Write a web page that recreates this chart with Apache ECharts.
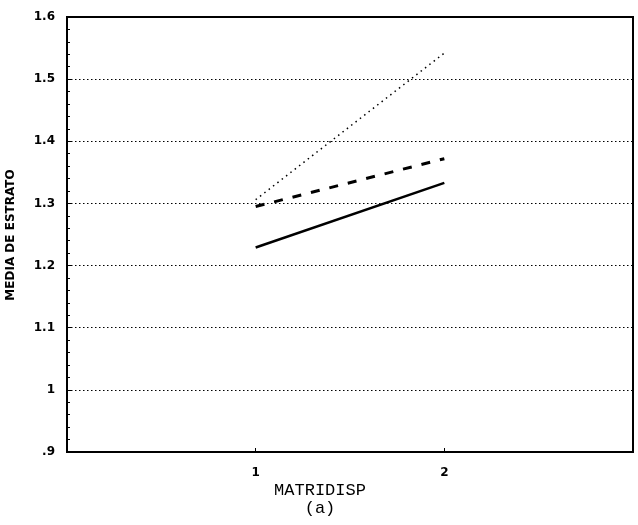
<!DOCTYPE html>
<html>
<head>
<meta charset="utf-8">
<script src="https://cdn.jsdelivr.net/npm/echarts@6/dist/echarts.min.js"></script>
<style>html,body{margin:0;padding:0;background:#fff;}#c{width:638px;height:525px;}</style>
</head>
<body>
<div id="c"></div>
<script>
const xCats = [1, 2];
const xTickLabels = ['1', '2'];
const yTickLabels = {0.9: '.9', 1: '1', 1.1: '1.1', 1.2: '1.2', 1.3: '1.3', 1.4: '1.4', 1.5: '1.5', 1.6: '1.6'};
const solidVals = [1.229, 1.333];
const dashedVals = [1.295, 1.372];
const dottedVals = [1.306, 1.542];
const xTitle = 'MATRIDISP';
const xSub = '(a)';
const yTitle = 'MEDIA DE ESTRATO';

const chart = echarts.init(document.getElementById('c'));
function pts(vals){ return xCats.map((x,i)=>[x, vals[i]]); }
chart.setOption({
  animation: false,
  backgroundColor: '#fff',
  grid: {left: 67, right: 5, top: 17, bottom: 73, show: true, borderColor: '#000', borderWidth: 2},
  xAxis: {
    type: 'value', min: 0, max: 3, interval: 1,
    axisLine: {show: true, lineStyle: {color: '#000', width: 2}},
    axisTick: {show: true, inside: true, length: 4, lineStyle: {color: '#000'}},
    splitLine: {show: false},
    axisLabel: {
      color: '#000', fontWeight: 'bold', fontSize: 12, fontFamily: 'DejaVu Sans', margin: 15,
      formatter: v => { const i = xCats.indexOf(v); return i >= 0 ? xTickLabels[i] : ''; }
    }
  },
  yAxis: {
    type: 'value', min: 0.9, max: 1.6, interval: 0.1,
    axisLine: {show: true, lineStyle: {color: '#000', width: 2}},
    axisTick: {show: true, inside: true, length: 5, lineStyle: {color: '#000'}},
    minorTick: {show: true, splitNumber: 5, length: 3, lineStyle: {color: '#000'}},
    splitLine: {show: true, lineStyle: {color: '#000', type: [1.5, 2.5], width: 1}},
    axisLabel: {
      color: '#000', fontWeight: 'bold', fontSize: 12, fontFamily: 'DejaVu Sans', margin: 12,
      formatter: v => { const k = Math.round(v*10)/10; return yTickLabels[k] || ''; }
    }
  },
  graphic: [
    {type: 'text', x: 320, y: 482, style: {text: xTitle, textAlign: 'center', font: '17px "Liberation Mono"', fill: '#000'}},
    {type: 'text', x: 320, y: 500, style: {text: xSub, textAlign: 'center', font: '17px "Liberation Mono"', fill: '#000'}},
    {type: 'text', x: 5, y: 235, rotation: Math.PI/2, style: {text: yTitle, textAlign: 'center', textVerticalAlign: 'top', font: 'bold 12px "DejaVu Sans"', fill: '#000'}}
  ],
  series: [
    {type: 'line', data: pts(solidVals), symbol: 'none', lineStyle: {color: '#000', width: 2.5, type: 'solid'}},
    {type: 'line', data: pts(dashedVals), symbol: 'none', lineStyle: {color: '#000', width: 3, type: [9, 10]}},
    {type: 'line', data: pts(dottedVals), symbol: 'none', lineStyle: {color: '#000', width: 1.5, type: [1.5, 4]}}
  ]
});
</script>
</body>
</html>
